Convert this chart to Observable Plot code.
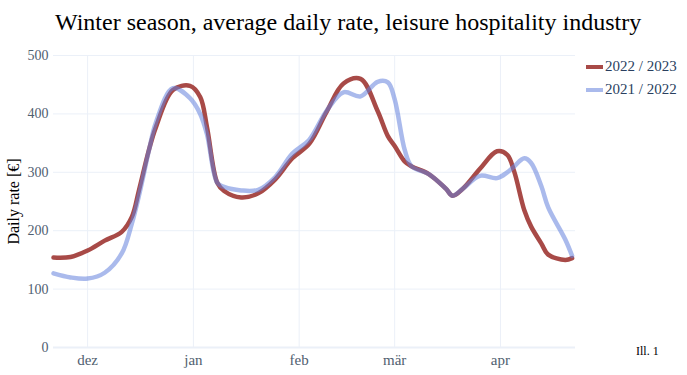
<!DOCTYPE html>
<html>
<head>
<meta charset="utf-8">
<script src="https://cdn.jsdelivr.net/npm/d3@7"></script>
<script src="https://cdn.jsdelivr.net/npm/@observablehq/plot@0.6"></script>
<style>
  html, body { margin: 0; padding: 0; background: #fff; }
  #wrap { position: relative; width: 687px; height: 375px; font-family: "Liberation Serif", "Times New Roman", serif; overflow: hidden; }
  #title { position: absolute; left: 55px; top: 8px; font-size: 24px; line-height: 28px; color: #000; white-space: nowrap; }
  #chart { position: absolute; left: 0; top: 40px; }
  #legend { position: absolute; left: 586px; top: 55px; font-size: 15px; color: #2a3f5f; font-family: "Liberation Serif", serif; }
  .item { display: flex; align-items: center; height: 23px; white-space: nowrap; }
  .sw { width: 17px; height: 4px; margin-right: 2px; }
  #caption { position: absolute; left: 636px; top: 344px; font-size: 12px; color: #000; font-family: "Liberation Serif", serif; }
  [aria-label="y-axis label"] text { font-size: 16px; fill: #000; }
</style>
</head>
<body>
<div id="wrap">
  <div id="title"></div>
  <div id="chart"></div>
  <div id="legend"></div>
  <div id="caption"></div>
</div>
<script>
const titleText = "Winter season, average daily rate, leisure hospitality industry";
const captionText = "Ill. 1";
const yLabel = "Daily rate [€]";
const seriesNames = ["2022 / 2023", "2021 / 2022"];
const seriesColors = ["#a84a47", "rgb(100,130,220)"];

const dates = [
  "2022-11-21","2022-11-26","2022-12-01","2022-12-06","2022-12-11","2022-12-14","2022-12-16",
  "2022-12-19","2022-12-21","2022-12-26","2022-12-31","2023-01-03","2023-01-05","2023-01-08",
  "2023-01-10","2023-01-15","2023-01-20","2023-01-25","2023-01-30","2023-02-04","2023-02-09",
  "2023-02-14","2023-02-19","2023-02-24","2023-02-27","2023-03-01","2023-03-04","2023-03-06",
  "2023-03-11","2023-03-16","2023-03-18","2023-03-21","2023-03-26","2023-03-31","2023-04-03",
  "2023-04-05","2023-04-08","2023-04-10","2023-04-13","2023-04-15","2023-04-20","2023-04-22"
];
const rate2223 = [
  154,155,166,183,198,224,268,
  339,377,441,448,429,377,282,
  268,257,264,288,324,349,403,
  452,460,405,362,345,318,310,
  297,272,260,272,306,336,330,
  302,235,207,178,159,150,153
];
const rate2122 = [
  127,120,118,128,161,213,259,
  338,385,444,427,400,365,282,
  275,269,270,292,332,356,405,
  437,430,455,454,425,337,310,
  297,272,260,272,294,290,300,
  310,324,316,276,240,185,157
];

const monthTicks = ["2022-12-01","2023-01-01","2023-02-01","2023-03-01","2023-04-01"];
const monthLabels = ["dez","jan","feb","mär","apr"];
const yTicks = [0,100,200,300,400,500];

const parse = s => new Date(s + "T00:00:00Z");
const rows = [];
[rate2223, rate2122].forEach((vals, k) => {
  vals.forEach((v, i) => rows.push({date: parse(dates[i]), value: v, series: seriesNames[k]}));
});
const tickDates = monthTicks.map(parse);
const labelByTime = new Map(tickDates.map((d, i) => [+d, monthLabels[i]]));

const chart = Plot.plot({
  width: 687,
  height: 335,
  marginLeft: 53,
  marginRight: 112,
  marginTop: 15,
  marginBottom: 28,
  style: {fontFamily: "'Liberation Serif', 'Times New Roman', serif", background: "#fff", overflow: "visible"},
  x: {type: "utc", domain: [parse("2022-11-21"), parse("2023-04-23")]},
  y: {domain: [0, 500]},
  marks: [
    Plot.gridX(tickDates, {stroke: "#EBF0F8", strokeOpacity: 1, strokeWidth: 1}),
    Plot.gridY(yTicks, {stroke: "#EBF0F8", strokeOpacity: 1, strokeWidth: 1}),
    Plot.ruleY([0], {stroke: "#EBF0F8", strokeWidth: 2}),
    Plot.axisX(tickDates, {tickSize: 0, tickPadding: 7, fontSize: 15, fill: "#506070", tickFormat: d => labelByTime.get(+d), label: null}),
    Plot.axisY(yTicks, {tickSize: 0, tickPadding: 5, fontSize: 14, fill: "#506070", label: yLabel, labelAnchor: "center", labelArrow: "none", labelOffset: 46}),
    Plot.lineY(rows.filter(r => r.series === seriesNames[0]), {x: "date", y: "value", curve: "catmull-rom", stroke: seriesColors[0], strokeWidth: 4.5}),
    Plot.lineY(rows.filter(r => r.series === seriesNames[1]), {x: "date", y: "value", curve: "catmull-rom", stroke: seriesColors[1], strokeWidth: 4.5, strokeOpacity: 0.55})
  ]
});
document.getElementById("chart").appendChild(chart);
document.getElementById("title").textContent = titleText;
document.getElementById("caption").textContent = captionText;

const legend = document.getElementById("legend");
seriesNames.forEach((name, k) => {
  const item = document.createElement("div");
  item.className = "item";
  const sw = document.createElement("span");
  sw.className = "sw";
  sw.style.background = seriesColors[k];
  if (k === 1) sw.style.opacity = 0.55;
  const t = document.createElement("span");
  t.textContent = name;
  item.appendChild(sw);
  item.appendChild(t);
  legend.appendChild(item);
});
</script>
</body>
</html>
